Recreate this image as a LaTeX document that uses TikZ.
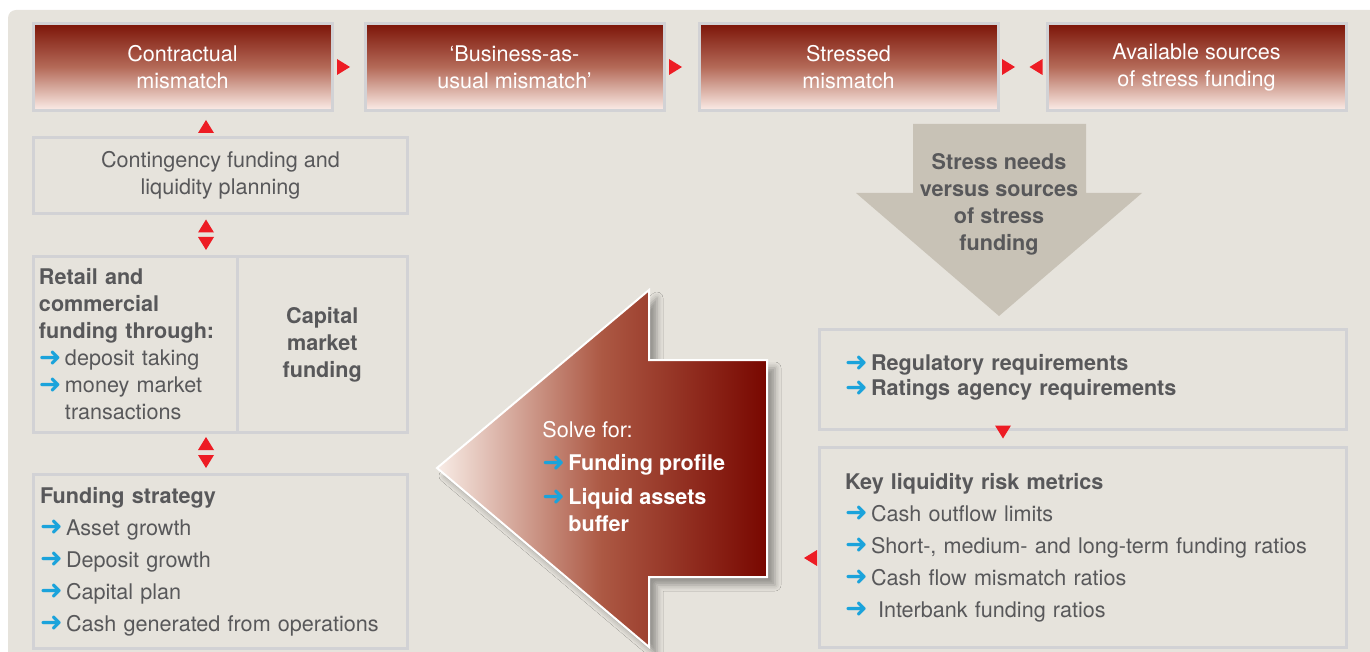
\documentclass[tikz,border=0pt]{standalone}
\usepackage{fontspec}
\setmainfont{TeX Gyre Heros}
\newfontfamily\dingfont{DejaVu Sans}
\usepackage{xcolor}
\usetikzlibrary{positioning,shadows.blur}

\definecolor{panel}{HTML}{E6E3DC}
\definecolor{boxline}{HTML}{D2D2D5}
\definecolor{txtgray}{HTML}{58585A}
\definecolor{trired}{HTML}{ED1C24}
\definecolor{arrowblue}{HTML}{1BA3DB}
\definecolor{stressgray}{HTML}{C8C2B6}
\definecolor{redtop}{HTML}{7C1408}
\definecolor{redmid}{HTML}{B46A58}
\definecolor{redbot}{HTML}{FCEEE9}
\definecolor{solvelight}{HTML}{F8ECE6}
\definecolor{solvemid}{HTML}{AC5843}
\definecolor{solvedark}{HTML}{780700}

% blue bullet arrow
\newcommand{\bul}{\makebox[13pt][l]{\smash{\raisebox{-0.3pt}{\dingfont\fontsize{13.5pt}{13.5pt}\selectfont\color{arrowblue}➜}}}}

\begin{document}
\begin{tikzpicture}[
  x=0.5pt, y=-0.5pt,
  font=\fontsize{10.8pt}{13.5pt}\selectfont,
  topbox/.style={draw=boxline, line width=1.5pt, top color=redtop, bottom color=redbot,
                 middle color=redmid, text=white, align=center,
                 minimum width=149.5pt, minimum height=43.5pt},
  plainbox/.style={draw=boxline, line width=1.5pt, text=txtgray, align=center},
  listbox/.style={plainbox, align=left},
  tri/.pic={\fill[trired] (3.5pt,0pt) -- (-3pt,4pt) -- (-3pt,-4pt) -- cycle;},
  solvearrow/.style={draw=white, line width=1pt, left color=solvelight,
                     right color=solvedark, middle color=solvemid,
                     blur shadow={shadow xshift=4pt, shadow yshift=-4pt,
                                  shadow blur radius=3pt, shadow opacity=35}}]

\useasboundingbox (0,0) rectangle (1370,652);
\fill[panel, rounded corners=4pt] (8,10) rectangle (1390,672);

% mismatch row
\node[topbox] (contr) at (182.5,67) {Contractual\\mismatch};
\node[topbox, right=15pt of contr] (bau) {‘Business-as-\\usual mismatch’};
\node[topbox, right=16pt of bau] (stressed) {Stressed\\mismatch};
\node[topbox, right=23pt of stressed] (avail) {Available sources\\of stress funding};

\pic at (343,67) {tri};
\pic at (675,67) {tri};
\pic at (1008,67) {tri};
\pic[rotate=180] at (1036.5,67) {tri};

% funding side (left column)
\node[plainbox, minimum width=187pt, minimum height=38pt] (cont) at (220.5,175.5)
  {Contingency funding and\\liquidity planning};
\node[listbox, minimum height=88pt, text width=96.25pt, inner xsep=2.75pt] (retail) at (135.25,344.5)
  {\textbf{Retail and}\\
   \textbf{commercial}\\
   \textbf{funding through:}\\
   \bul deposit taking\\
   \bul money market\\
   \hspace*{13pt}transactions};
\node[plainbox, minimum width=85.25pt, minimum height=88pt, font=\fontsize{10.8pt}{13.5pt}\selectfont\bfseries]
  (capmkt) at (322.25,344.5) {Capital\\market\\funding};
\node[listbox, minimum height=87pt, text width=180.5pt, inner xsep=3.25pt] (strat) at (220.5,561.5)
  {\textbf{Funding strategy}\\[2.5pt]
   \bul Asset growth\\[2.5pt]
   \bul Deposit growth\\[2.5pt]
   \bul Capital plan\\[2.5pt]
   \bul Cash generated from operations};

\pic[rotate=90] at (206,127) {tri};
\pic[rotate=90] at (206,226.5) {tri};
\pic[rotate=270] at (206,243) {tri};
\pic[rotate=90] at (206,444) {tri};
\pic[rotate=270] at (206,461) {tri};

% stress side (right column)
\fill[stressgray] (913,124) -- (1086,124) -- (1086,193) -- (1142,193) -- (999,316)
  -- (856,193) -- (913,193) -- cycle;
\node[text=txtgray, align=center, font=\fontsize{10.8pt}{13.5pt}\selectfont\bfseries] (needs) at (999,204)
  {Stress needs\\versus sources\\of stress\\funding};
\node[listbox, minimum height=50pt, text width=238pt, inner xsep=12.75pt] (reg) at (1083,379)
  {\\[-7pt]
   \bul\textbf{Regulatory requirements}\\[-1pt]
   \bul\textbf{Ratings agency requirements}};
\node[listbox, minimum height=100pt, text width=238pt, inner xsep=12.75pt] (keym) at (1083,547.5)
  {\textbf{Key liquidity risk metrics}\\[2.5pt]
   \bul Cash outflow limits\\[2.5pt]
   \bul Short-, medium- and long-term funding ratios\\[2.5pt]
   \bul Cash flow mismatch ratios\\[2.5pt]
   \bul\hspace{3.5pt}Interbank funding ratios};

\pic[rotate=270] at (1003,431.5) {tri};
\pic[rotate=180] at (811,558) {tri};

% solve-for arrow
\path[solvearrow] (437,468) -- (649,290) -- (649,360) -- (767,360) -- (767,577)
  -- (649,577) -- (649,647) -- cycle;
\node[anchor=west, inner sep=0pt, text=white, align=left] (solve) at (542,476.5)
  {Solve for:\\[3pt]
   \bul\textbf{Funding profile}\\[3.5pt]
   \bul\textbf{Liquid assets}\\
   \hspace*{13pt}\textbf{buffer}};
\end{tikzpicture}
\end{document}
